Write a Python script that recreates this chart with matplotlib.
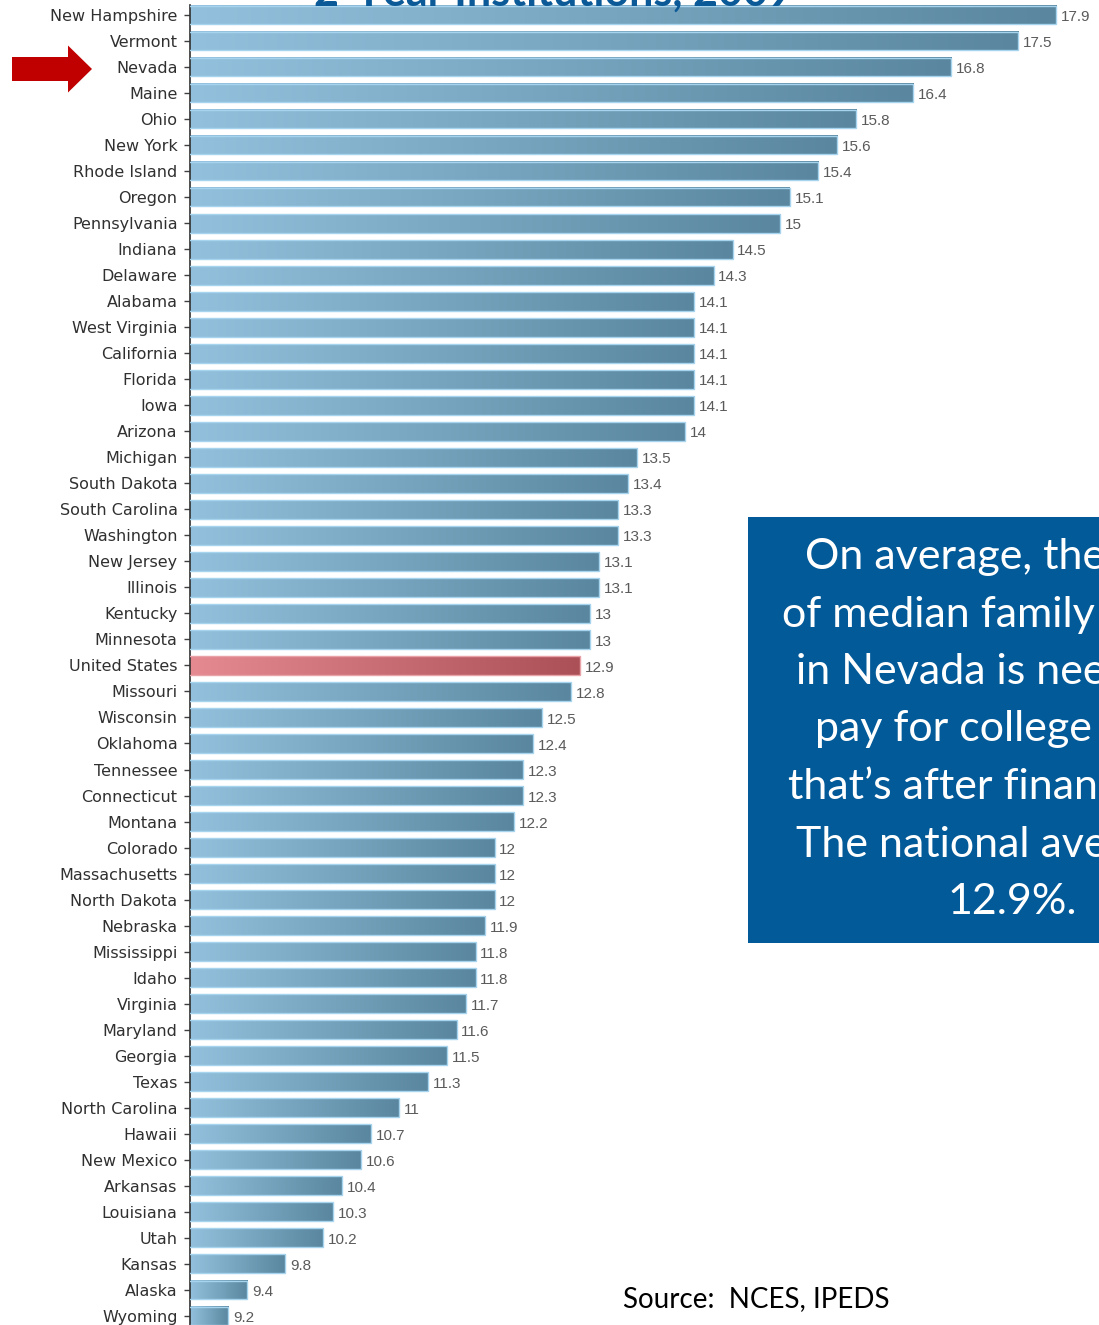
import matplotlib
matplotlib.use("Agg")
import matplotlib.pyplot as plt
import numpy as np
from matplotlib.colors import LinearSegmentedColormap
from matplotlib.patches import FancyArrow, Rectangle

# share of median family income needed for a 2-year college, by state
states = ["New Hampshire", "Vermont", "Nevada", "Maine", "Ohio", "New York",
          "Rhode Island", "Oregon", "Pennsylvania", "Indiana", "Delaware",
          "Alabama", "West Virginia", "California", "Florida", "Iowa",
          "Arizona", "Michigan", "South Dakota", "South Carolina", "Washington",
          "New Jersey", "Illinois", "Kentucky", "Minnesota", "United States",
          "Missouri", "Wisconsin", "Oklahoma", "Tennessee", "Connecticut",
          "Montana", "Colorado", "Massachusetts", "North Dakota", "Nebraska",
          "Mississippi", "Idaho", "Virginia", "Maryland", "Georgia", "Texas",
          "North Carolina", "Hawaii", "New Mexico", "Arkansas", "Louisiana",
          "Utah", "Kansas", "Alaska", "Wyoming"]
values = [17.9, 17.5, 16.8, 16.4, 15.8, 15.6, 15.4, 15.1, 15, 14.5, 14.3,
          14.1, 14.1, 14.1, 14.1, 14.1, 14, 13.5, 13.4, 13.3, 13.3, 13.1, 13.1,
          13, 13, 12.9, 12.8, 12.5, 12.4, 12.3, 12.3, 12.2, 12, 12, 12, 11.9,
          11.8, 11.8, 11.7, 11.6, 11.5, 11.3, 11, 10.7, 10.6, 10.4, 10.3, 10.2,
          9.8, 9.4, 9.2]
highlight = "United States"

title = "2-Year Institutions, 2009"
note_lines = ["On average, the share", "of median family income",
              "in Nevada is needed to", "pay for college \u2013 and",
              "that\u2019s after financial aid.", "The national average is",
              "12.9%."]
source = "Source:  NCES, IPEDS"

W, H = 1099, 1325
fig = plt.figure(figsize=(W / 100, H / 100), dpi=100)
ax = fig.add_axes([190 / W, 0, 1 - 190 / W, 1 - 5 / H])

blue_cm = LinearSegmentedColormap.from_list("blu", ["#93C1DD", "#5A879F"])
red_cm = LinearSegmentedColormap.from_list("red", ["#E48A90", "#AC5057"])
grad = np.linspace(0, 1, 256).reshape(1, -1)

xmin, xmax = 8.8, 18.35
h = 0.72
ypos = np.arange(len(states))
for i, (s, v) in enumerate(zip(states, values)):
    cm = red_cm if s == highlight else blue_cm
    edge = "#E9A3A8" if s == highlight else "#A6D3EE"
    ax.imshow(grad, cmap=cm, aspect="auto", zorder=2,
              extent=[xmin, v, i + h / 2, i - h / 2])
    ax.barh(i, v, height=h, facecolor="none", edgecolor=edge,
            linewidth=1, zorder=3)
    ax.text(v + 0.05, i + 0.08, f"{v:g}", va="center", ha="left",
            fontsize=11, color="#5a5a5a", family="Liberation Sans")

ax.set_xlim(xmin, xmax)
ax.set_ylim(len(states) - 1 + 0.35, -0.384)
ax.set_aspect("auto")
ax.set_yticks(ypos)
ax.set_yticklabels(states, fontsize=11.5, color="#303030", family="DejaVu Sans")
ax.tick_params(axis="y", length=4, width=1, color="#404040", pad=5)
ax.set_xticks([])
for sp in ["top", "right", "bottom"]:
    ax.spines[sp].set_visible(False)
ax.spines["left"].set_color("#303030")
ax.spines["left"].set_linewidth(1.2)

# overlay in pixel units for the title, arrow, note box and source
ov = fig.add_axes([0, 0, 1, 1])
ov.set_xlim(0, W)
ov.set_ylim(H, 0)
ov.axis("off")

ov.text(554, 6, title, ha="center", va="baseline", fontsize=31,
        fontweight="bold", color="#0B5A97", family="Lato")

ov.add_patch(FancyArrow(12, 69, 80, 0, width=24, head_width=47,
                        head_length=24, length_includes_head=True,
                        color="#C00000", linewidth=0))

ov.add_patch(Rectangle((748, 517), 600, 426, facecolor="#035A98",
                       edgecolor="none"))
for k, line in enumerate(note_lines):
    ov.text(1012, 557 + k * 57.5, line, ha="center", va="center",
            fontsize=31, color="white", family="Lato")

ov.text(623, 1299, source, ha="left", va="center", fontsize=20,
        color="black", family="Lato")

fig.savefig("out.png", dpi=100)
